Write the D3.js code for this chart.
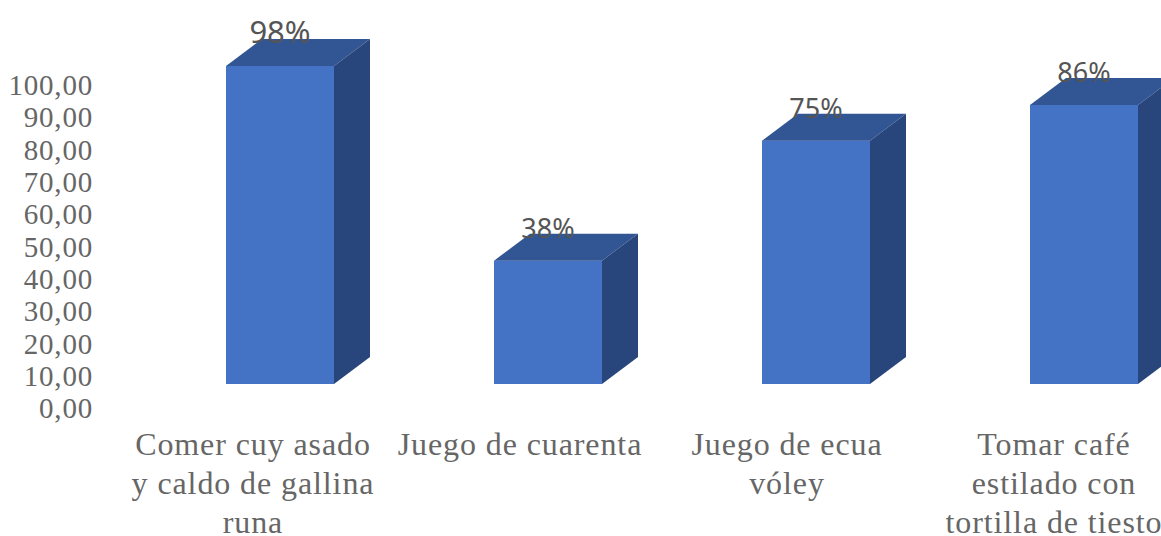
<!DOCTYPE html>
<html><head><meta charset="utf-8"><script src="https://cdnjs.cloudflare.com/ajax/libs/d3/7.8.5/d3.min.js"></script>
<style>html,body{margin:0;background:#fff}svg{display:block}text{font-family:"Liberation Serif",serif;fill:#666}</style></head><body><svg width="1161" height="536"></svg>
<script>
const categories=[["Comer cuy asado","y caldo de gallina","runa"],["Juego de cuarenta"],["Juego de ecua","vóley"],["Tomar café","estilado con","tortilla de tiesto"]];
const values=[98,38,75,86];
const labels=["98%","38%","75%","86%"];
const ticks=[0,10,20,30,40,50,60,70,80,90,100];
const svg=d3.select("svg");
const yAxisScale=d3.scaleLinear().domain([0,100]).range([408,85]);
const floorY=384, bw=108, dx=36, dy=27;
const h=d3.scaleLinear().domain([0,98]).range([0,318]);
const x=d3.scalePoint().domain(d3.range(4)).range([226,1030]);
const cx=d3.scalePoint().domain(d3.range(4)).range([253,1054]);
const g=svg.append("g");
g.selectAll("text.t").data(ticks).join("text").attr("x",93).attr("y",d=>yAxisScale(d)).attr("dy","0.35em").attr("text-anchor","end").attr("font-size",29).attr("letter-spacing",0.8).text(d=>d3.format(".2f")(d).replace(".",","));
values.forEach((v,i)=>{const x0=x(i),top=floorY-h(v);
g.append("rect").attr("x",x0).attr("y",top).attr("width",bw).attr("height",h(v)).attr("fill","#4472c4");
g.append("polygon").attr("points",[[x0,top],[x0+dx,top-dy],[x0+bw+dx,top-dy],[x0+bw,top]].join(" ")).attr("fill","#325593");
g.append("polygon").attr("points",[[x0+bw,top],[x0+bw+dx,top-dy],[x0+bw+dx,floorY-dy],[x0+bw,floorY]].join(" ")).attr("fill","#28467c");
g.append("text").attr("x",x0+bw/2).attr("y",top-23).attr("text-anchor","middle").attr("font-size",i===0?31:27).style("font-family","'Noto Sans',sans-serif").style("fill","#555").text(labels[i]);
});
categories.forEach((c,i)=>c.forEach((l,j)=>g.append("text").attr("x",cx(i)).attr("y",455+j*39).attr("text-anchor","middle").attr("font-size",32).attr("letter-spacing",0.9).text(l)));
</script></body></html>
